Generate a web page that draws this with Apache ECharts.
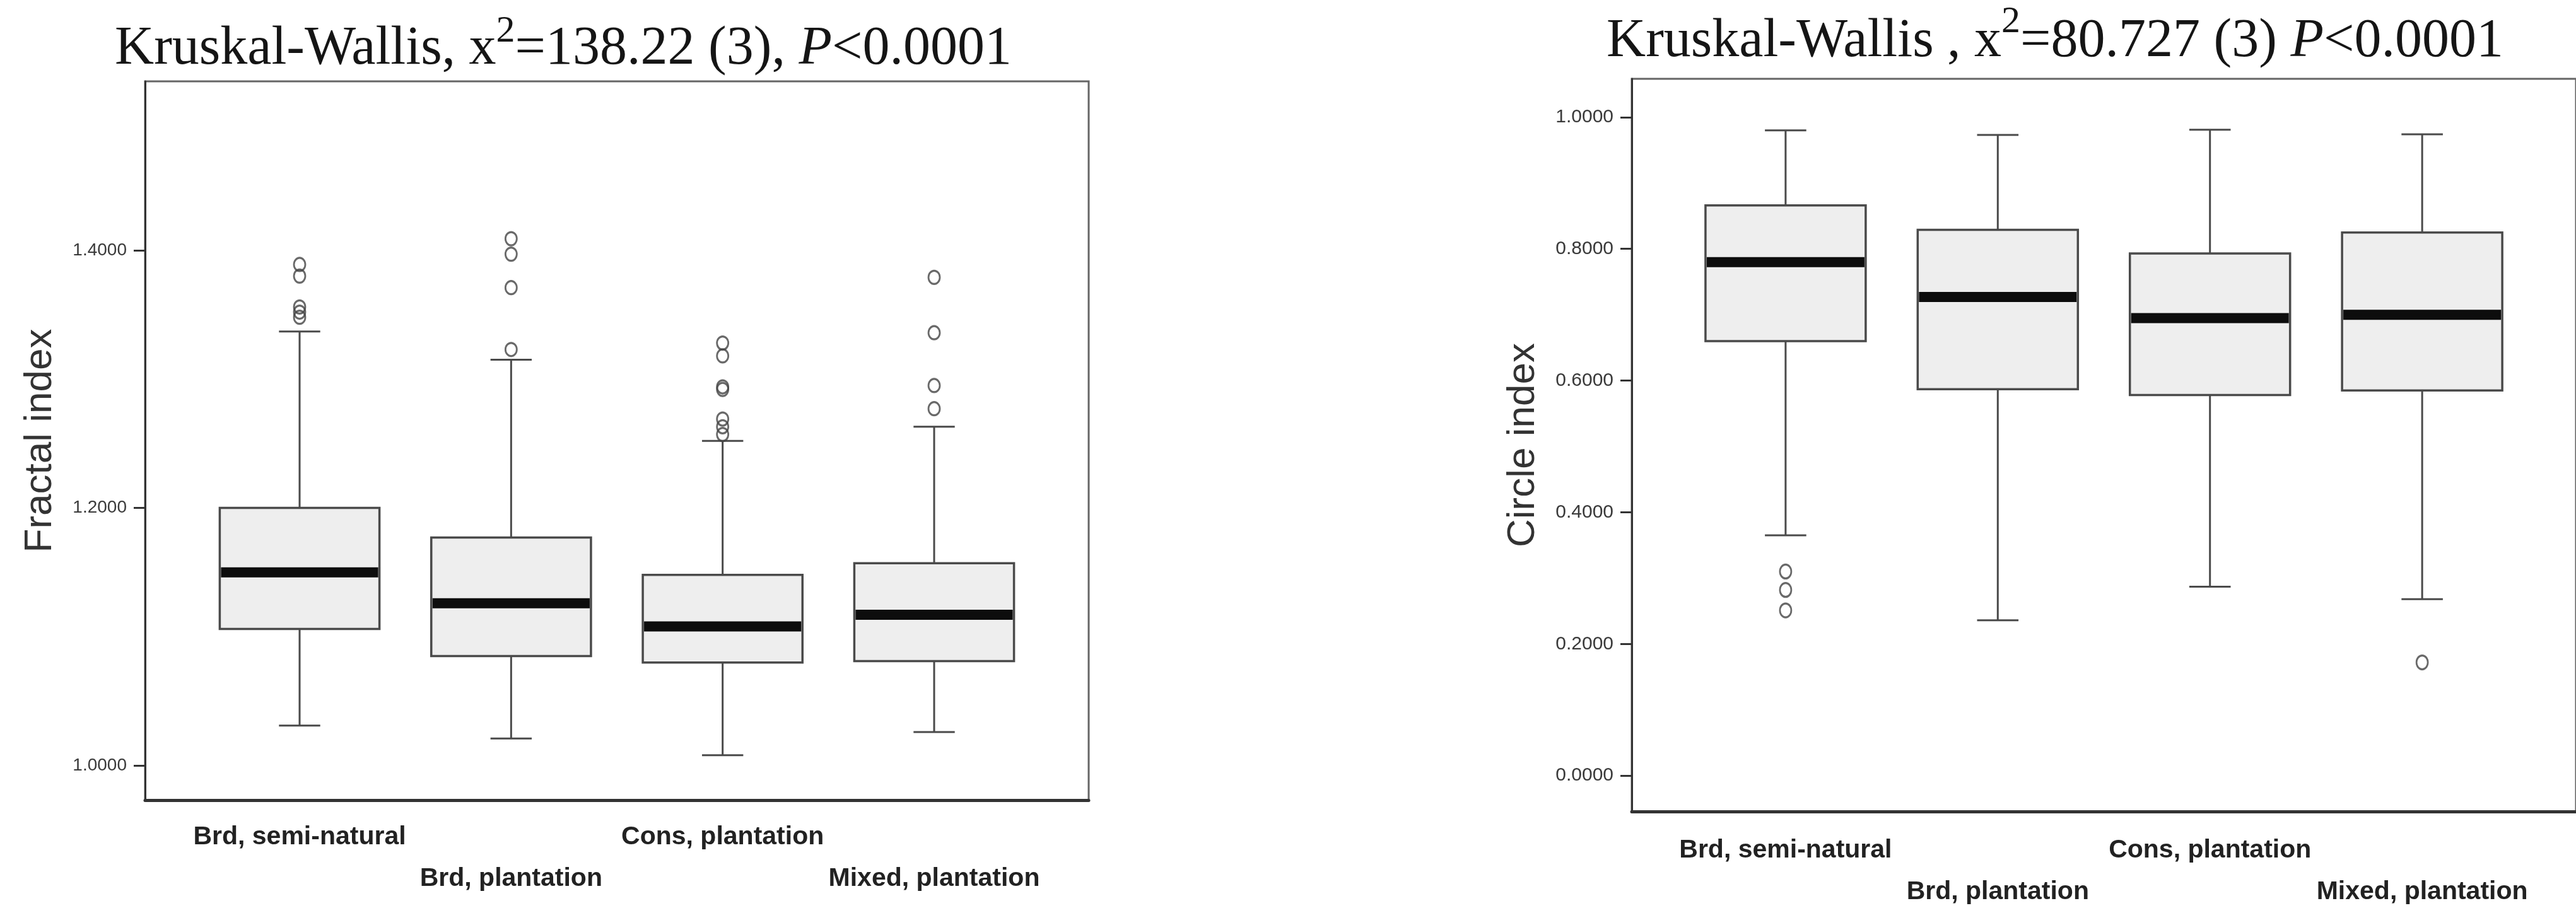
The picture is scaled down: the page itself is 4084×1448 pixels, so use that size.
<!DOCTYPE html>
<html>
<head>
<meta charset="utf-8">
<script src="https://cdn.jsdelivr.net/npm/echarts@6/dist/echarts.min.js"></script>
<style>
  html, body { margin: 0; padding: 0; background: #ffffff; }
  #chart { width: 4084px; height: 1448px; }
</style>
</head>
<body>
<div id="chart"></div>
<script>
// ---------- data ----------
const categories = ['Brd, semi-natural', 'Brd, plantation', 'Cons, plantation', 'Mixed, plantation'];

// Left panel: Fractal index
const fractalTitle = ['Kruskal-Wallis, x', '2', '=138.22 (3), ', 'P', '<0.0001'];
const fractalLow    = [1.031, 1.021, 1.008, 1.026];
const fractalQ1     = [1.106, 1.085, 1.080, 1.081];
const fractalMedian = [1.150, 1.126, 1.108, 1.117];
const fractalQ3     = [1.200, 1.177, 1.148, 1.157];
const fractalHigh   = [1.337, 1.315, 1.252, 1.263];
const fractalOutlierGroup = [0, 0, 0, 0, 0, 1, 1, 1, 1, 2, 2, 2, 2, 2, 2, 2, 3, 3, 3, 3];
const fractalOutlierValue = [1.389, 1.380, 1.356, 1.352, 1.348,
                             1.409, 1.397, 1.371, 1.323,
                             1.328, 1.318, 1.294, 1.292, 1.269, 1.263, 1.257,
                             1.379, 1.336, 1.295, 1.277];
const fractalTicks = [1.0, 1.2, 1.4];

// Right panel: Circle index
const circleTitle = ['Kruskal-Wallis , x', '2', '=80.727 (3) ', 'P', '<0.0001'];
const circleLow    = [0.365, 0.236, 0.287, 0.268];
const circleQ1     = [0.660, 0.587, 0.578, 0.585];
const circleMedian = [0.780, 0.727, 0.695, 0.700];
const circleQ3     = [0.866, 0.829, 0.793, 0.825];
const circleHigh   = [0.980, 0.973, 0.981, 0.974];
const circleOutlierGroup = [0, 0, 0, 3];
const circleOutlierValue = [0.310, 0.282, 0.251, 0.172];
const circleTicks = [0.0, 0.2, 0.4, 0.6, 0.8, 1.0];

// ---------- style constants ----------
const SANS = 'Liberation Sans, Arial, sans-serif';
const SERIF = 'Liberation Serif, Times New Roman, serif';
const BOX_RATIO = 0.755;
const CAP_RATIO = 0.195;
const LINE = '#4a4a4a';

function boxData(low, q1, med, q3, high) {
  return categories.map((_, i) => [i, low[i], q1[i], med[i], q3[i], high[i]]);
}
function outlierData(groups, values) {
  return groups.map((g, i) => [g, values[i]]);
}

function renderBox(params, api) {
  const i = api.value(0);
  const pLow = api.coord([i, api.value(1)]);
  const pQ1 = api.coord([i, api.value(2)]);
  const pMed = api.coord([i, api.value(3)]);
  const pQ3 = api.coord([i, api.value(4)]);
  const pHigh = api.coord([i, api.value(5)]);
  const band = api.size([1, 0])[0];
  const half = band * BOX_RATIO / 2;
  const cap = band * CAP_RATIO / 2;
  const cx = pMed[0];
  const lineStyle = { stroke: LINE, lineWidth: 3 };
  return {
    type: 'group',
    children: [
      { type: 'line', shape: { x1: cx, y1: pHigh[1], x2: cx, y2: pQ3[1] }, style: lineStyle },
      { type: 'line', shape: { x1: cx, y1: pQ1[1], x2: cx, y2: pLow[1] }, style: lineStyle },
      { type: 'line', shape: { x1: cx - cap, y1: pHigh[1], x2: cx + cap, y2: pHigh[1] }, style: lineStyle },
      { type: 'line', shape: { x1: cx - cap, y1: pLow[1], x2: cx + cap, y2: pLow[1] }, style: lineStyle },
      { type: 'rect', shape: { x: cx - half, y: pQ3[1], width: 2 * half, height: pQ1[1] - pQ3[1] },
        style: { fill: '#eeeeee', stroke: LINE, lineWidth: 3.5 } },
      { type: 'line', shape: { x1: cx - half + 2, y1: pMed[1], x2: cx + half - 2, y2: pMed[1] },
        style: { stroke: '#0d0d0d', lineWidth: 16 } }
    ]
  };
}

function catFormatter(v) {
  const i = Math.round(v);
  return i % 2 ? '\n' + categories[i] : categories[i];
}

function titleText(parts) {
  return '{a|' + parts[0] + '}{s|' + parts[1] + '}{a|' + parts[2] + '}{i|' + parts[3] + '}{a|' + parts[4] + '}';
}
function titleRich(lh) {
  return {
    a: { fontFamily: SERIF, fontSize: 86, lineHeight: lh, fill: '#151515' },
    s: { fontFamily: SERIF, fontSize: 60, lineHeight: 60, fill: '#151515', verticalAlign: 'top' },
    i: { fontFamily: SERIF, fontSize: 86, lineHeight: lh, fill: '#151515', fontStyle: 'italic' }
  };
}

function xAxisCfg(gridIndex, min, max, margin) {
  return {
    gridIndex, type: 'value', min, max,
    axisLine: { show: true, onZero: false, lineStyle: { color: '#333', width: 5 } },
    axisTick: { show: false },
    splitLine: { show: false },
    axisLabel: {
      customValues: [0, 1, 2, 3],
      formatter: catFormatter,
      margin, fontSize: 41, fontWeight: 'bold', fontFamily: SANS, color: '#222', lineHeight: 66
    }
  };
}
function yAxisCfg(gridIndex, min, max, ticks, name, nameGap, fontSize) {
  return {
    gridIndex, type: 'value', min, max,
    name, nameLocation: 'middle', nameGap, nameRotate: 90,
    nameTextStyle: { fontSize: 62, fontFamily: SANS, color: '#333' },
    axisLine: { show: true, onZero: false, lineStyle: { color: '#333', width: 3 } },
    axisTick: { show: true, customValues: ticks, length: 18, lineStyle: { color: '#333', width: 3 } },
    splitLine: { show: false },
    axisLabel: {
      customValues: ticks,
      formatter: (v) => Number(v).toFixed(4),
      margin: 29, fontSize, fontFamily: SANS, color: '#3a3a3a'
    }
  };
}

const chart = echarts.init(document.getElementById('chart'), null, { renderer: 'canvas' });
chart.setOption({
  backgroundColor: '#ffffff',
  animation: false,
  grid: [
    { left: 230, top: 129, width: 1496, height: 1140, show: true, borderColor: '#666', borderWidth: 3, backgroundColor: 'transparent' },
    { left: 2587, top: 125, width: 1516, height: 1165, show: true, borderColor: '#666', borderWidth: 3, backgroundColor: 'transparent' }
  ],
  xAxis: [
    xAxisCfg(0, -0.7306, 3.7306, 26),
    xAxisCfg(1, -0.725, 3.725, 29)
  ],
  yAxis: [
    yAxisCfg(0, 0.9731, 1.5312, fractalTicks, 'Fractal index', 135, 28),
    yAxisCfg(1, -0.0544, 1.0583, circleTicks, 'Circle index', 141, 30)
  ],
  series: [
    {
      type: 'custom', xAxisIndex: 0, yAxisIndex: 0,
      data: boxData(fractalLow, fractalQ1, fractalMedian, fractalQ3, fractalHigh),
      encode: { x: 0, y: [1, 2, 3, 4, 5] },
      renderItem: renderBox, z: 2
    },
    {
      type: 'scatter', xAxisIndex: 0, yAxisIndex: 0,
      data: outlierData(fractalOutlierGroup, fractalOutlierValue),
      symbol: 'circle', symbolSize: [18, 21],
      itemStyle: { color: 'rgba(0,0,0,0)', borderColor: '#444', borderWidth: 3 }, z: 3
    },
    {
      type: 'custom', xAxisIndex: 1, yAxisIndex: 1,
      data: boxData(circleLow, circleQ1, circleMedian, circleQ3, circleHigh),
      encode: { x: 0, y: [1, 2, 3, 4, 5] },
      renderItem: renderBox, z: 2
    },
    {
      type: 'scatter', xAxisIndex: 1, yAxisIndex: 1,
      data: outlierData(circleOutlierGroup, circleOutlierValue),
      symbol: 'circle', symbolSize: [18, 22],
      itemStyle: { color: 'rgba(0,0,0,0)', borderColor: '#444', borderWidth: 3 }, z: 3
    }
  ],
  graphic: [
    {
      type: 'text', x: 893, y: 78, z: 10,
      style: { text: titleText(fractalTitle), rich: titleRich(116), align: 'center', verticalAlign: 'middle' }
    },
    {
      type: 'text', x: 3258, y: 66, z: 10,
      style: { text: titleText(circleTitle), rich: titleRich(122), align: 'center', verticalAlign: 'middle' }
    }
  ]
});
</script>
</body>
</html>
